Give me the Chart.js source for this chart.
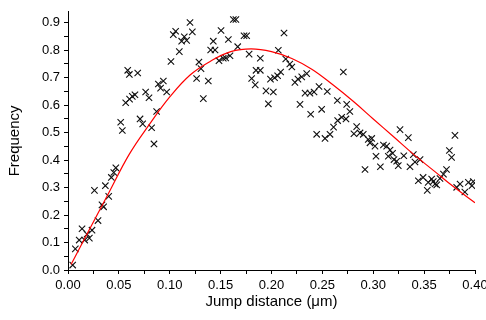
<!DOCTYPE html>
<html>
<head>
<meta charset="utf-8">
<script src="https://cdn.jsdelivr.net/npm/chart.js@4"></script>
<style>
  html, body { margin: 0; padding: 0; background: #fff; }
  #wrap { width: 486px; height: 320px; }
</style>
</head>
<body>
<div id="wrap"><canvas id="chart"></canvas></div>
<script>
// measured points (jump distance in um, frequency)
const distX = [
  0.0046, 0.0072, 0.011, 0.0138, 0.0164, 0.0187, 0.021, 0.0236, 0.026, 0.0295,
  0.0334, 0.035, 0.0367, 0.040, 0.0426, 0.045, 0.047, 0.0518, 0.0534, 0.0567,
  0.0587, 0.0603, 0.0605, 0.0632, 0.0658, 0.0685, 0.0708, 0.0734, 0.0763, 0.0796,
  0.0822, 0.0845, 0.0871, 0.0888, 0.091, 0.0937, 0.097, 0.1012, 0.1035, 0.1058,
  0.1094, 0.1117, 0.1143, 0.1166, 0.1199, 0.1222, 0.1264, 0.1287, 0.1307, 0.133,
  0.1379, 0.1402, 0.1428, 0.1445, 0.1484, 0.1504, 0.1526, 0.155, 0.1576, 0.1592,
  0.1625, 0.165, 0.1668, 0.173, 0.1756, 0.178, 0.1805, 0.184, 0.1848, 0.189,
  0.189, 0.1946, 0.1969, 0.199, 0.2018, 0.203, 0.206, 0.2067, 0.209, 0.2123,
  0.214, 0.218, 0.220, 0.223, 0.226, 0.228, 0.2297, 0.233, 0.2346, 0.2378,
  0.2385, 0.2418, 0.2444, 0.2467, 0.2493, 0.2526, 0.2548, 0.2575, 0.261, 0.2647,
  0.265, 0.269, 0.2706, 0.2732, 0.2739, 0.277, 0.281, 0.2837, 0.287, 0.2902,
  0.2919, 0.2951, 0.2968, 0.2985, 0.3017, 0.3027, 0.307, 0.310, 0.3132, 0.3148,
  0.3165, 0.319, 0.3204, 0.323, 0.3246, 0.3263, 0.330, 0.3345, 0.3361, 0.3394,
  0.341, 0.3443, 0.346, 0.349, 0.3531, 0.354, 0.3574, 0.359, 0.3607, 0.3624,
  0.3656, 0.369, 0.372, 0.3748, 0.377, 0.3803, 0.382, 0.3853, 0.390, 0.3935,
  0.397, 0.3983
];
const freqY = [
  0.018, 0.077, 0.109, 0.150, 0.109, 0.130, 0.116, 0.145, 0.290, 0.180,
  0.237, 0.230, 0.307, 0.268, 0.337, 0.355, 0.372, 0.538, 0.508, 0.609,
  0.727, 0.712, 0.622, 0.632, 0.638, 0.717, 0.550, 0.532, 0.648, 0.627,
  0.518, 0.459, 0.577, 0.677, 0.662, 0.688, 0.648, 0.759, 0.857, 0.869,
  0.795, 0.833, 0.849, 0.836, 0.901, 0.867, 0.697, 0.757, 0.733, 0.624,
  0.688, 0.801, 0.833, 0.801, 0.762, 0.872, 0.771, 0.772, 0.839, 0.780,
  0.912, 0.912, 0.813, 0.853, 0.853, 0.786, 0.697, 0.674, 0.727, 0.727,
  0.771, 0.652, 0.605, 0.695, 0.648, 0.700, 0.707, 0.800, 0.721, 0.863,
  0.768, 0.750, 0.739, 0.683, 0.695, 0.603, 0.703, 0.644, 0.715, 0.644,
  0.567, 0.648, 0.494, 0.668, 0.585, 0.479, 0.650, 0.494, 0.520, 0.617,
  0.544, 0.556, 0.721, 0.550, 0.603, 0.577, 0.496, 0.522, 0.499, 0.494,
  0.366, 0.475, 0.463, 0.479, 0.451, 0.414, 0.376, 0.455, 0.451, 0.414,
  0.437, 0.425, 0.402, 0.396, 0.380, 0.511, 0.416, 0.482, 0.376, 0.420,
  0.393, 0.325, 0.402, 0.337, 0.290, 0.319, 0.331, 0.322, 0.313, 0.310,
  0.333, 0.349, 0.366, 0.435, 0.410, 0.490, 0.301, 0.313, 0.284, 0.319,
  0.307, 0.322
];

// fitted curve
const fitX = [0.003, 0.02, 0.04, 0.06, 0.08, 0.10, 0.12, 0.14, 0.16, 0.18, 0.20,
  0.22, 0.24, 0.26, 0.28, 0.30, 0.32, 0.34, 0.36, 0.38, 0.40];
const fitY = [0.02, 0.14, 0.28, 0.42, 0.53, 0.63, 0.71, 0.76, 0.795, 0.805, 0.795,
  0.77, 0.73, 0.675, 0.615, 0.55, 0.485, 0.42, 0.36, 0.30, 0.245];

// axis ticks
const xTicks = [0, 0.05, 0.10, 0.15, 0.20, 0.25, 0.30, 0.35, 0.40];
const xMinorTicks = [0.025, 0.075, 0.125, 0.175, 0.225, 0.275, 0.325, 0.375];
const yTicks = [0, 0.1, 0.2, 0.3, 0.4, 0.5, 0.6, 0.7, 0.8, 0.9];
const yMinorTicks = [0.05, 0.15, 0.25, 0.35, 0.45, 0.55, 0.65, 0.75, 0.85];

const FONT = "'Liberation Sans', Arial, sans-serif";

const isMajor = (v, list) => list.some((t) => Math.abs(t - v) < 1e-6);

new Chart(document.getElementById("chart"), {
  type: "scatter",
  data: {
    datasets: [
      {
        label: "fit",
        data: fitX.map((x, i) => ({ x: x, y: fitY[i] })),
        showLine: true,
        borderColor: "#ff0000",
        borderWidth: 1.2,
        pointRadius: 0,
        tension: 0.4,
        fill: false,
      },
      {
        label: "data",
        data: distX.map((x, i) => ({ x: x, y: freqY[i] })),
        pointStyle: "crossRot",
        pointRadius: 4.5,
        borderColor: "#111",
        borderWidth: 1.1,
      },
    ],
  },
  options: {
    responsive: true,
    maintainAspectRatio: false,
    animation: false,
    events: [],
    layout: { padding: { left: 4, right: 11, top: 4, bottom: 0 } },
    plugins: {
      legend: { display: false },
      tooltip: { enabled: false },
    },
    scales: {
      x: {
        type: "linear",
        min: 0,
        max: 0.4,
        afterBuildTicks: (s) => {
          s.ticks = xTicks.concat(xMinorTicks).sort((a, b) => a - b).map((v) => ({ value: v }));
        },
        afterFit: (s) => {
          s.height = 50;
          s.paddingLeft = 0;
          s.paddingRight = 0;
        },
        ticks: {
          autoSkip: false,
          maxRotation: 0,
          padding: 4,
          color: "#000",
          font: { family: FONT, size: 13 },
          callback: (v) => (isMajor(v, xTicks) ? v.toFixed(2) : ""),
        },
        grid: { drawOnChartArea: false, drawTicks: true, tickLength: 4, color: "#000" },
        border: { color: "#000", width: 1 },
        title: {
          display: true,
          text: "Jump distance (\u03bcm)",
          color: "#000",
          font: { family: FONT, size: 15 },
          padding: { top: 0, bottom: 9 },
        },
      },
      y: {
        min: 0,
        max: 0.94,
        afterBuildTicks: (s) => {
          s.ticks = yTicks.concat(yMinorTicks).sort((a, b) => a - b).map((v) => ({ value: v }));
        },
        afterFit: (s) => {
          s.width = 64;
        },
        ticks: {
          autoSkip: false,
          padding: 4,
          color: "#000",
          font: { family: FONT, size: 13 },
          callback: (v) => (isMajor(v, yTicks) ? v.toFixed(1) : ""),
        },
        grid: { drawOnChartArea: false, drawTicks: true, tickLength: 4, color: "#000" },
        border: { color: "#000", width: 1 },
        title: {
          display: true,
          text: "Frequency",
          color: "#000",
          font: { family: FONT, size: 15 },
          padding: { top: 2, bottom: 0 },
        },
      },
    },
  },
});
</script>
</body>
</html>
